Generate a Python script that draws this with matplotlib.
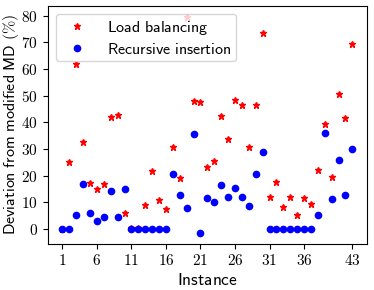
import matplotlib.pyplot as plt
import numpy as np

plt.rcParams['mathtext.fontset'] = 'cm'

instances = np.arange(1, 44)

load_balancing = [0, 25, 62, 32.7, 17.4, 15.2, 16.9, 41.9, 42.7, 6.1,
                  0.5, 0.5, 9.1, 21.6, 10.9, 7.5, 30.9, 19, 79.6, 47.9,
                  47.5, 23.2, 25.5, 42.5, 33.7, 48.4, 46.6, 30.7, 46.5, 73.4,
                  12.2, 17.6, 8.4, 11.9, 5.2, 11.6, 9.4, 22.2, 39.5, 19.5,
                  50.7, 41.5, 69.5]
recursive = [0, 0, 5.1, 16.9, 5.9, 3.2, 4.7, 14.4, 4.7, 15.1,
             0, 0, 0, 0, 0, 0, 20.5, 12.9, 7.9, 35.6,
             -1.4, 11.7, 10.2, 16.7, 12, 15.4, 12.1, 8.7, 20.7, 29.1,
             0, 0, 0, 0, 0, 0, 0, 5.4, 36.2, 11.2,
             25.9, 12.9, 30.1]
xticks = [1, 6, 11, 16, 21, 26, 31, 36, 43]

fig = plt.figure(figsize=(3.74, 2.9), dpi=100)
ax = fig.add_axes([0.128, 0.160, 0.853, 0.819])
ax.plot(instances, load_balancing, 'r*', markersize=5,
        label=r'$\mathsf{Load\ balancing}$')
ax.plot(instances, recursive, 'bo', markersize=4.5,
        label=r'$\mathsf{Recursive\ insertion}$')
ax.set_xticks(xticks)
ax.set_xticklabels(['$%d$' % t for t in xticks], fontsize=11)
ax.set_yticks(range(0, 81, 10))
ax.set_yticklabels(['$%d$' % t for t in range(0, 81, 10)], fontsize=11)
ax.set_xlabel(r'$\mathsf{Instance}$', fontsize=12.5, labelpad=2)
ax.set_ylabel(r'$\mathsf{Deviation\ from\ modified\ MD}\ (\%)$', fontsize=11.5, labelpad=0.5)
ax.legend(loc='upper left', fontsize=11.5, handletextpad=0.9,
          labelspacing=0.3, borderpad=0.3)

plt.savefig('out.png', dpi=100)
